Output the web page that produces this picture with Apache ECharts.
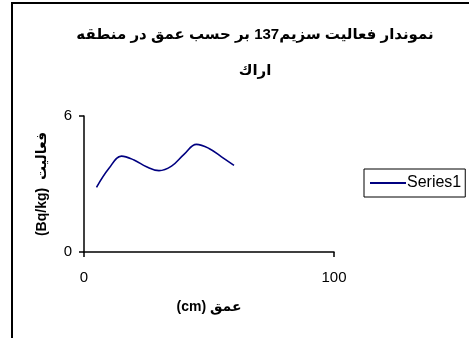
<!DOCTYPE html>
<html>
<head>
<meta charset="utf-8">
<script src="https://cdn.jsdelivr.net/npm/echarts@6/dist/echarts.min.js"></script>
<style>
  html, body { margin: 0; padding: 0; background: #fff; }
  #chart { width: 469px; height: 338px; }
</style>
</head>
<body>
<div id="chart"></div>
<script>
// depth (cm) and Cs-137 activity (Bq/kg)
const depths = [5, 10, 15, 20, 25, 30, 35, 40, 45, 50, 55, 60]
const activity = [2.85, 3.69, 4.23, 4.06, 3.76, 3.59, 3.79, 4.31, 4.75, 4.57, 4.2, 3.82]
const seriesName = 'Series1'
const titleText = 'نموندار فعالیت سزیم137 بر حسب عمق در منطقه\nاراك'
const xName = '(cm) عمق'
const yName = '(Bq/kg)  فعالیت'

const font = '"Liberation Sans", Arial, "DejaVu Sans", sans-serif'

const chart = echarts.init(document.getElementById('chart'))

chart.setOption({
  animation: false,
  textStyle: { fontFamily: font },
  graphic: [{
    type: 'rect',
    shape: { x: 12, y: 3, width: 520, height: 400 },
    style: { fill: 'none', stroke: '#000', lineWidth: 2 },
    silent: true
  }],
  title: {
    text: titleText,
    left: 250,
    top: 12,
    textAlign: 'center',
    textStyle: {
      fontFamily: font,
      fontSize: 15,
      fontWeight: 'bold',
      color: '#000',
      lineHeight: 36
    }
  },
  legend: {
    left: 364,
    top: 169,
    itemWidth: 36,
    itemHeight: 2,
    itemGap: 0,
    padding: [6, 4, 6, 6],
    borderColor: '#000',
    borderWidth: 1,
    icon: 'rect',
    textStyle: { fontSize: 16, color: '#000', padding: [0, 0, 0, -4] },
    data: [seriesName]
  },
  grid: { left: 84, top: 116, width: 250, height: 136 },
  xAxis: {
    type: 'value',
    min: 0,
    max: 100,
    interval: 100,
    name: xName,
    nameLocation: 'middle',
    nameGap: 48,
    nameTextStyle: { fontSize: 14, fontWeight: 'bold', color: '#000' },
    axisLine: { lineStyle: { color: '#000', width: 1.5 } },
    axisTick: { show: true, length: 5, lineStyle: { color: '#000', width: 1.5 } },
    axisLabel: { fontSize: 15, color: '#000', margin: 18 },
    splitLine: { show: false }
  },
  yAxis: {
    type: 'value',
    min: 0,
    max: 6,
    interval: 6,
    name: yName,
    nameLocation: 'middle',
    nameRotate: 90,
    nameGap: 35,
    nameTextStyle: { fontSize: 14, fontWeight: 'bold', color: '#000' },
    axisLine: { show: true, lineStyle: { color: '#000', width: 1.5 } },
    axisTick: { show: true, length: 5, lineStyle: { color: '#000', width: 1.5 } },
    axisLabel: { fontSize: 15, color: '#000', margin: 12 },
    splitLine: { show: false }
  },
  series: [{
    name: seriesName,
    type: 'line',
    smooth: 0.4,
    showSymbol: false,
    symbol: 'none',
    data: depths.map((d, i) => [d, activity[i]]),
    lineStyle: { color: '#000080', width: 1.6 },
    itemStyle: { color: '#000080' }
  }]
})
</script>
</body>
</html>
